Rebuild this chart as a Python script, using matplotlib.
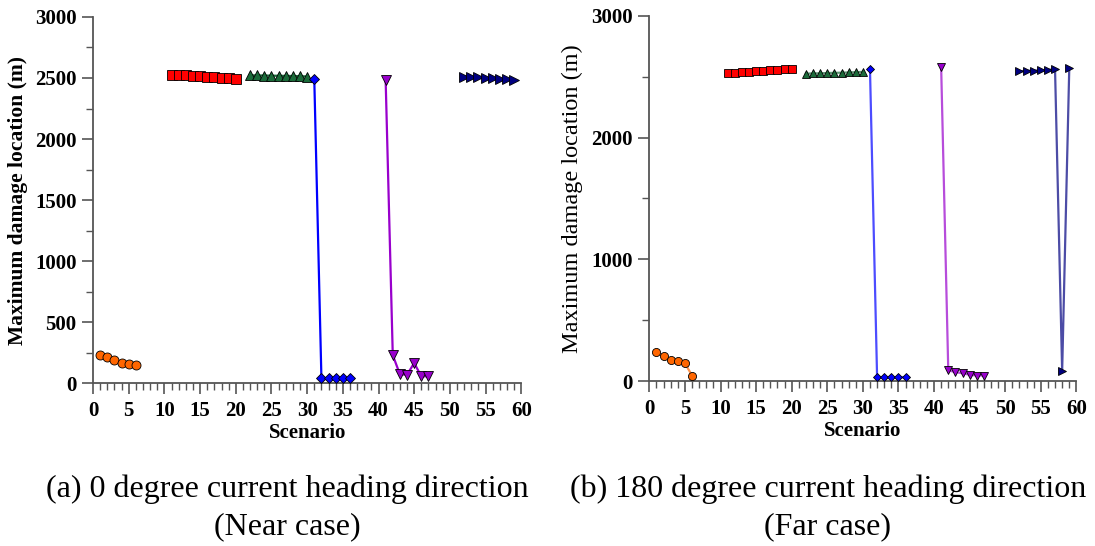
import numpy as np
import matplotlib
matplotlib.use('Agg')
import matplotlib.pyplot as plt
from matplotlib.ticker import MultipleLocator

plt.rcParams['font.family'] = ['Liberation Serif', 'DejaVu Serif']

# ---- data: scenario numbers and maximum damage location (m) ----
x_circ = [1, 2, 3, 4, 5, 6]
x_sq = [11, 12, 13, 14, 15, 16, 17, 18, 19, 20]
x_tri = [22, 23, 24, 25, 26, 27, 28, 29, 30]
x_dia = [31, 32, 33, 34, 35, 36]
x_dtri = [41, 42, 43, 44, 45, 46, 47]
x_rtri = [52, 53, 54, 55, 56, 57, 58, 59]

# (a) 0 degree, near case
near_circ = [230, 212, 188, 166, 156, 148]
near_sq = [2525, 2524, 2522, 2520, 2515, 2512, 2507, 2502, 2497, 2490]
near_tri = [2522, 2521, 2520, 2519, 2518, 2517, 2516, 2515, 2512]
near_dia = [2490, 40, 40, 40, 40, 40]
near_dtri = [2484, 230, 74, 70, 166, 57, 57]
near_rtri = [2512, 2508, 2504, 2500, 2496, 2492, 2488, 2482]

# (b) 180 degree, far case
far_circ = [235, 205, 172, 165, 148, 45]
far_sq = [2530, 2532, 2535, 2540, 2544, 2548, 2552, 2556, 2562, 2566]
far_tri = [2525, 2527, 2528, 2530, 2532, 2533, 2535, 2537, 2540]
far_dia = [2565, 32, 32, 32, 32, 32]
far_dtri = [2582, 88, 74, 65, 52, 46, 46]
far_rtri = [2545, 2548, 2550, 2552, 2555, 2562, 82, 2572]

styles = [
    ('o', '#ff6600'),
    ('s', '#ff0000'),
    ('^', '#1b6b3a'),
    ('D', '#0000ff'),
    ('v', '#9900cc'),
    ('>', '#000080'),
]


def draw_panel(ax, series, bold_ylabel, ms_scale, line_alpha):
    for (xs, ys), (mk, col) in zip(series, styles):
        ms = 6.5 * ms_scale if mk != 'D' else 5.0 * ms_scale
        ax.plot(xs, ys, color=col, lw=1.6, alpha=line_alpha, clip_on=False, zorder=2)
        ax.plot(xs, ys, ls='none', marker=mk, ms=ms, mfc=col, mec='black',
                mew=0.6, clip_on=False, zorder=3)
    ax.set_xlim(0, 60)
    ax.set_ylim(0, 3000)
    ax.xaxis.set_major_locator(MultipleLocator(5))
    ax.xaxis.set_minor_locator(MultipleLocator(1))
    for sp in ['top', 'right']:
        ax.spines[sp].set_visible(False)
    for sp in ['left', 'bottom']:
        ax.spines[sp].set_color('#555555')
        ax.spines[sp].set_linewidth(1.3)
    ax.tick_params(which='major', direction='out', length=8, width=1.2,
                   color='#555555', labelsize=15, pad=4)
    ax.tick_params(axis='x', which='major', pad=5)
    ax.tick_params(which='minor', direction='out', length=5, width=1.0,
                   color='#555555')
    for lab in ax.get_xticklabels() + ax.get_yticklabels():
        lab.set_fontweight('bold')
    ax.set_xlabel('Scenario', fontsize=15, fontweight='bold', labelpad=1)
    if bold_ylabel:
        ax.set_ylabel('Maximum damage location (m)', fontsize=15.5,
                      fontweight='bold', labelpad=5)
    else:
        ax.set_ylabel('Maximum damage location (m)', fontsize=17.5,
                      fontweight='normal', labelpad=6)


fig = plt.figure(figsize=(10.95, 5.46), dpi=100)

ax1 = fig.add_axes([0.085, 0.298, 0.391, 0.671])
ax1.yaxis.set_major_locator(MultipleLocator(500))
ax1.yaxis.set_minor_locator(MultipleLocator(250))
draw_panel(ax1, [(x_circ, near_circ), (x_sq, near_sq), (x_tri, near_tri),
                 (x_dia, near_dia), (x_dtri, near_dtri), (x_rtri, near_rtri)],
           True, 1.0, 1.0)

ax2 = fig.add_axes([0.593, 0.302, 0.390, 0.669])
ax2.yaxis.set_major_locator(MultipleLocator(1000))
ax2.yaxis.set_minor_locator(MultipleLocator(500))
draw_panel(ax2, [(x_circ, far_circ), (x_sq, far_sq), (x_tri, far_tri),
                 (x_dia, far_dia), (x_dtri, far_dtri), (x_rtri, far_rtri)],
           False, 0.9, 0.7)

fig.text(0.262, 0.070, '(a) 0 degree current heading direction\n(Near case)',
         ha='center', va='center', fontsize=23, linespacing=1.4)
fig.text(0.756, 0.070, '(b) 180 degree current heading direction\n(Far case)',
         ha='center', va='center', fontsize=23, linespacing=1.4)

fig.savefig('out.png', dpi=100)
